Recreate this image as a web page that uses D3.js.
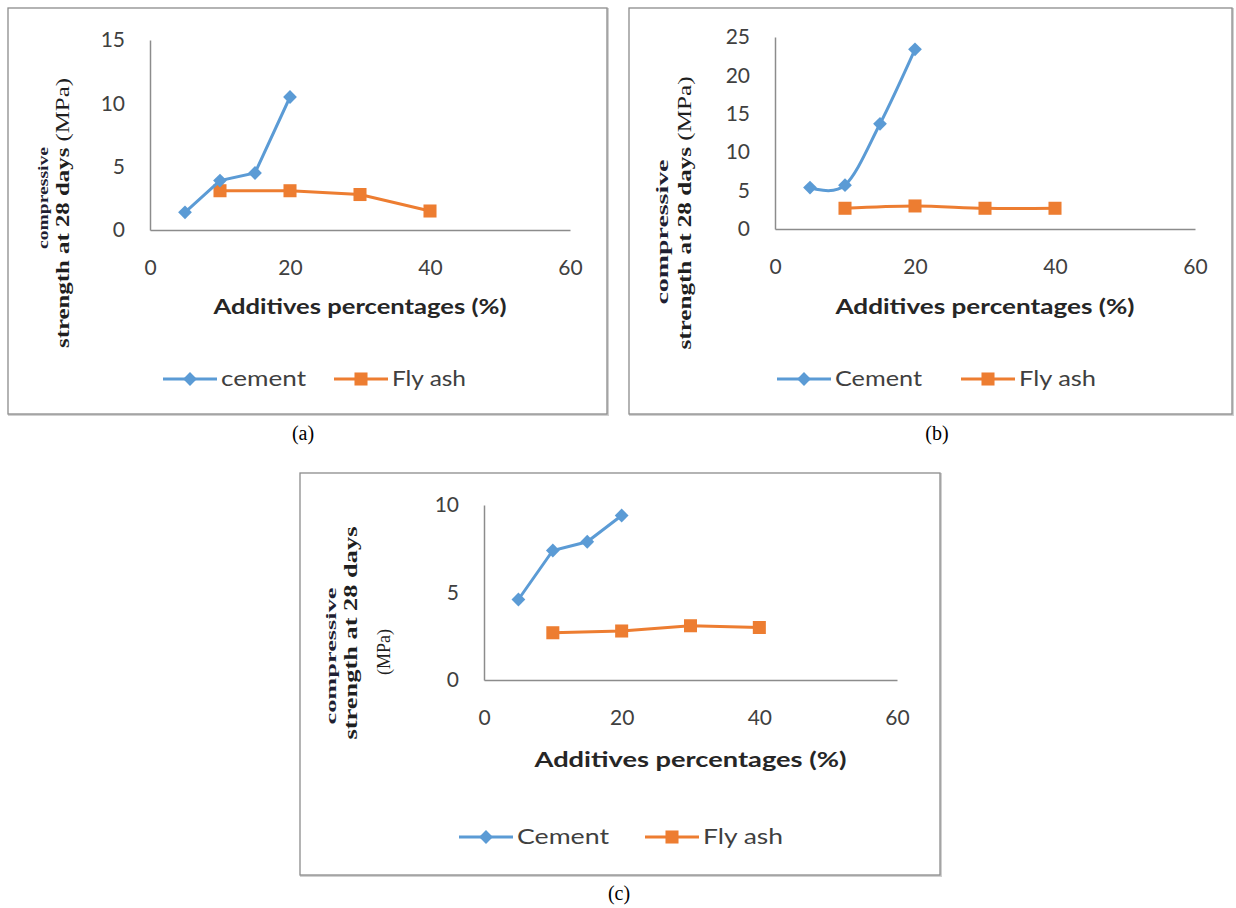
<!DOCTYPE html>
<html>
<head>
<meta charset="utf-8">
<script src="https://cdn.jsdelivr.net/npm/d3@7"></script>
<style>
  body { margin: 0; background: #fff; }
  svg { display: block; }
</style>
</head>
<body>
<script>
// data
const cementX = [5, 10, 15, 20];
const flyAshX = [10, 20, 30, 40];
const cementA = [1.4, 3.9, 4.5, 10.5];
const flyAshA = [3.1, 3.1, 2.8, 1.5];
const cementB = [5.4, 5.7, 13.7, 23.4];
const flyAshB = [2.7, 3.0, 2.7, 2.7];
const cementC = [4.6, 7.4, 7.9, 9.4];
const flyAshC = [2.7, 2.8, 3.1, 3.0];
const xTicks = [0, 20, 40, 60];
const yTicksA = [0, 5, 10, 15];
const yTicksB = [0, 5, 10, 15, 20, 25];
const yTicksC = [0, 5, 10];
const legendA = ["cement", "Fly ash"];
const legendB = ["Cement", "Fly ash"];
const legendC = ["Cement", "Fly ash"];
const captions = ["(a)", "(b)", "(c)"];
const xTitle = "Additives percentages (%)";

const w = 1236, h = 908;
const blue = "#5b9bd5", orange = "#ed7d31";
const sans = "Lato, 'Open Sans', sans-serif";
const serif = "'Liberation Serif', 'DejaVu Serif', serif";

const svg = d3.select("body").append("svg")
  .attr("width", w).attr("height", h);

// layout of each panel (frame, plot area, label spots)
const panels = [
  { frame: [8, 8, 599, 406], x: [150, 570], y: [230, 40], yMax: 15, yTicks: yTicksA,
    cement: cementA, fly: flyAshA, legend: legendA, smooth: false,
    legendX: [163, 334], legendW: [85, 74], legendY: 379, titleDy: 77, titleW: 293,
    ylab: { cx: 48, cy: 198, len: 102, size: 14, sx: 69, sy: 213, slen: 270 },
    cap: [303, 433] },
  { frame: [629, 8, 603, 406], x: [775, 1195], y: [229, 37], yMax: 25, yTicks: yTicksB,
    cement: cementB, fly: flyAshB, legend: legendB, smooth: true,
    legendX: [777, 961], legendW: [87, 77], legendY: 379, titleDy: 78, titleW: 299,
    ylab: { cx: 668, cy: 232, len: 145, size: 17, sx: 691, sy: 213, slen: 273 },
    cap: [937, 433] },
  { frame: [300, 473, 640, 402], x: [484, 897], y: [680, 505], yMax: 10, yTicks: yTicksC,
    cement: cementC, fly: flyAshC, legend: legendC, smooth: false,
    legendX: [459, 645], legendW: [92, 80], legendY: 837, titleDy: 80, titleW: 312,
    ylab: { cx: 336, cy: 656, len: 137, size: 15, sx: 357, sy: 633, slen: 213, split: true, mx: 390, my: 652 },
    cap: [619, 893] }
];

panels.forEach(function(p, i) {
  const g = svg.append("g");

  // frame
  g.append("rect")
    .attr("x", p.frame[0] + 1).attr("y", p.frame[1] + 1)
    .attr("width", p.frame[2]).attr("height", p.frame[3])
    .attr("fill", "none").attr("stroke", "#d0d0d0").attr("stroke-width", 2);
  g.append("rect")
    .attr("x", p.frame[0]).attr("y", p.frame[1])
    .attr("width", p.frame[2]).attr("height", p.frame[3])
    .attr("fill", "#fff").attr("stroke", "#8c8c8c").attr("stroke-width", 1.3);

  const xScale = d3.scaleLinear().domain([0, 60]).range(p.x);
  const yScale = d3.scaleLinear().domain([0, p.yMax]).range(p.y);

  const xAxis = d3.axisBottom(xScale).tickValues(xTicks)
    .tickSize(0).tickSizeOuter(0).tickPadding(30);
  const yAxis = d3.axisLeft(yScale).tickValues(p.yTicks)
    .tickSize(0).tickSizeOuter(0).tickPadding(25);

  const gx = g.append("g").attr("transform", "translate(0," + p.y[0] + ")").call(xAxis);
  const gy = g.append("g").attr("transform", "translate(" + p.x[0] + ",0)").call(yAxis);
  [gx, gy].forEach(function(a) {
    a.select(".domain").attr("stroke", "#8c8c8c").attr("stroke-width", 1.5);
    a.selectAll("text").attr("font-family", sans).attr("font-size", 21)
      .attr("fill", "#404040");
  });

  // x axis title
  g.append("text")
    .attr("x", (p.x[0] + p.x[1]) / 2).attr("y", p.y[0] + p.titleDy)
    .attr("dy", "0.35em").attr("text-anchor", "middle")
    .attr("font-family", sans).attr("font-weight", "bold").attr("font-size", 21)
    .attr("fill", "#262626")
    .attr("textLength", p.titleW).attr("lengthAdjust", "spacingAndGlyphs")
    .text(xTitle);

  // y axis title (rotated, two or three lines)
  const yl = p.ylab;
  g.append("text")
    .attr("transform", "translate(" + yl.cx + "," + yl.cy + ") rotate(-90)")
    .attr("text-anchor", "middle")
    .attr("font-family", serif).attr("font-weight", "bold").attr("font-size", yl.size)
    .attr("fill", "#1f1f33")
    .attr("textLength", yl.len).attr("lengthAdjust", "spacingAndGlyphs")
    .text("compressive");
  const st = g.append("text")
    .attr("transform", "translate(" + yl.sx + "," + yl.sy + ") rotate(-90)")
    .attr("text-anchor", "middle")
    .attr("font-family", serif).attr("font-size", 18)
    .attr("fill", "#1f1f1f")
    .attr("textLength", yl.slen).attr("lengthAdjust", "spacingAndGlyphs");
  st.append("tspan").attr("font-weight", "bold").text("strength at 28 days");
  if (yl.split) {
    g.append("text")
      .attr("transform", "translate(" + yl.mx + "," + yl.my + ") rotate(-90)")
      .attr("text-anchor", "middle")
      .attr("font-family", serif).attr("font-size", 18).attr("fill", "#1f1f1f")
      .text("(MPa)");
  } else {
    st.append("tspan").text(" (MPa)");
  }

  // series
  const line = d3.line()
    .x(d => xScale(d[0])).y(d => yScale(d[1]))
    .curve(p.smooth ? d3.curveCardinal.tension(0) : d3.curveLinear);
  const cementData = cementX.map((x, k) => [x, p.cement[k]]);
  const flyData = flyAshX.map((x, k) => [x, p.fly[k]]);

  const diamond = d3.symbol().type(d3.symbolSquare).size(95);
  const square = d3.symbol().type(d3.symbolSquare).size(170);

  g.append("path").datum(flyData).attr("d", line)
    .attr("fill", "none").attr("stroke", orange).attr("stroke-width", 3);
  g.selectAll(".fly").data(flyData).enter().append("path")
    .attr("class", "fly")
    .attr("transform", d => "translate(" + xScale(d[0]) + "," + yScale(d[1]) + ")")
    .attr("d", square).attr("fill", orange);

  g.append("path").datum(cementData).attr("d", line)
    .attr("fill", "none").attr("stroke", blue).attr("stroke-width", 3);
  g.selectAll(".cem").data(cementData).enter().append("path")
    .attr("class", "cem")
    .attr("transform", d => "translate(" + xScale(d[0]) + "," + yScale(d[1]) + ") rotate(45)")
    .attr("d", diamond).attr("fill", blue);

  // legend
  const colors = [blue, orange];
  const marks = [diamond, square];
  p.legend.forEach(function(name, k) {
    const lx = p.legendX[k], ly = p.legendY;
    g.append("line")
      .attr("x1", lx).attr("x2", lx + 54).attr("y1", ly).attr("y2", ly)
      .attr("stroke", colors[k]).attr("stroke-width", 3);
    g.append("path")
      .attr("transform", "translate(" + (lx + 27) + "," + ly + ")" + (k === 0 ? " rotate(45)" : ""))
      .attr("d", marks[k]).attr("fill", colors[k]);
    g.append("text")
      .attr("x", lx + 58).attr("y", ly).attr("dy", "0.35em")
      .attr("font-family", sans).attr("font-size", 21).attr("fill", "#404040")
      .attr("textLength", p.legendW[k]).attr("lengthAdjust", "spacingAndGlyphs")
      .text(name);
  });

  // caption under the frame
  svg.append("text")
    .attr("x", p.cap[0]).attr("y", p.cap[1]).attr("dy", "0.35em")
    .attr("text-anchor", "middle")
    .attr("font-family", serif).attr("font-size", 20).attr("fill", "#000")
    .text(captions[i]);
});
</script>
</body>
</html>
